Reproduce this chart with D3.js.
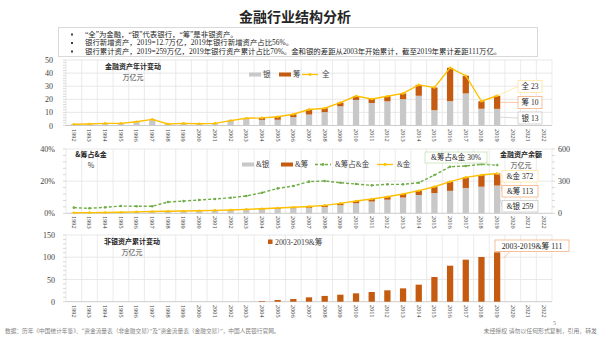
<!DOCTYPE html>
<html>
<head>
<meta charset="utf-8">
<script src="https://cdn.jsdelivr.net/npm/d3@7"></script>
<style>
  body { margin: 0; background: #fff; }
  svg { display: block; font-family: "Liberation Serif", "Noto Sans CJK SC", serif; }
  .cjk { font-family: "Noto Sans CJK SC", sans-serif; }
</style>
</head>
<body>
<div id="chart"></div>
<script>
// categories
const years = ['1992', '1993', '1994', '1995', '1996', '1997', '1998', '1999', '2000', '2001',
  '2002', '2003', '2004', '2005', '2006', '2007', '2008', '2009', '2010', '2011', '2012',
  '2013', '2014', '2015', '2016', '2017', '2018', '2019', '2020', '2021', '2022']
const dataYears = years.slice(0, 28) // 1992-2019

// yearly change, 万亿元
const flowBank = [0.8, 1.1, 1.5, 1.5, 2.7, 4.4, 1.1, 1.5, 1.2, 1.5, 3.4, 5.0, 4.3, 4.4, 6.4, 8.4,
  10.2, 14.7, 19.5, 17.2, 18.5, 20.1, 22.7, 11.7, 18.6, 24.5, 12.8, 12.7]
const flowNonBank = [0.1, 0.1, 0.1, 0.1, 0.2, 0.3, 0.1, 0.1, 0.1, 0.1, 0.3, 0.5, 1.5, 2.3, 2.2, 3.8,
  3.0, 2.8, 3.0, 3.0, 3.8, 4.4, 8.3, 17.3, 25.4, 13.5, 5.7, 10]
const flowTotal = [0.9, 1.2, 1.6, 1.6, 2.9, 4.7, 1.2, 1.6, 1.3, 1.6, 3.7, 5.5, 5.8, 6.7, 8.6, 12.2,
  13.2, 17.5, 22.5, 20.2, 22.3, 24.5, 31.0, 29.0, 44.0, 38.0, 18.5, 22.7]

// balances, 万亿元, and non-bank share in %
const stockBank = [4.8, 5.8, 7.7, 9.5, 12.4, 16.3, 17.7, 19.4, 22.0, 24.6, 28.0, 33.0, 37.5, 42.2,
  47.3, 51.4, 59.1, 75.3, 94.1, 109.9, 127.1, 147.6, 170.9, 189.0, 209.4, 236.5, 248.1, 259]
const stockNonBank = [0.2, 0.2, 0.3, 0.5, 0.6, 0.7, 1.3, 1.6, 2.0, 2.4, 3.0, 4.0, 5.5, 7.8, 9.7,
  12.6, 14.9, 17.7, 20.9, 23.1, 27.9, 32.4, 40.1, 59.0, 85.6, 98.5, 108.9, 113]
const stockTotal = [5, 6, 8, 10, 13, 17, 19, 21, 24, 27, 31, 37, 43, 50, 57, 64, 74, 93, 115, 133,
  155, 180, 211, 248, 295, 335, 357, 372]
const stockShare = [3.5, 3.1, 3.7, 4.5, 4.4, 4.4, 7.0, 7.6, 8.3, 8.9, 9.7, 10.8, 12.8, 15.5, 17.0,
  19.7, 20.1, 19.0, 18.2, 17.4, 18.0, 18.0, 19.0, 23.8, 29.0, 29.4, 30.5, 30]

// cumulative non-bank change since 2003
const cumYears = years.slice(11, 28)
const cumNonBank = [0, 1.5, 3.8, 6.0, 9.8, 13.0, 15.8, 18.8, 21.8, 25.6, 30.0, 38.3, 55.6, 81.0,
  94.5, 100.6, 111]

const notes = [
  '“全”为金融，“银”代表银行，“筹”是非银资产。',
  '银行新增资产，2019=12.7万亿，2019年银行新增资产占比56%。',
  '银行累计资产，2019=259万亿，2019年银行资产累计占比70%。金和银的差距从2003年开始累计，截至2019年累计差距111万亿。'
]

const C_BANK = '#c8c8c8', C_NB = '#c55a11', C_TOT = '#ffc000', C_SHARE = '#70ad47'
const C_GRID = '#e2e2e2', C_TEXT = '#404040'

const svg = d3.select('#chart').append('svg').attr('width', 600).attr('height', 337)

const x = d3.scaleBand().domain(years).range([66, 552]).paddingInner(0.6).paddingOuter(0.3)
const step = x.step(), bw = x.bandwidth()
const cx = (d) => x(d) + bw / 2

// title + notes box
svg.append('text').attr('class', 'cjk').attr('x', 295).attr('y', 22).attr('text-anchor', 'middle')
  .style('font-size', '14px').style('font-weight', 'bold').style('fill', '#262626').text('金融行业结构分析')
svg.append('rect').attr('x', 58.5).attr('y', 27.5).attr('width', 479).attr('height', 29)
  .attr('fill', 'none').attr('stroke', '#d9d9d9')
notes.forEach((t, i) => {
  const yy = 36.5 + i * 8.5
  svg.append('rect').attr('x', 71).attr('y', yy - 3).attr('width', 2).attr('height', 2).attr('fill', '#404040')
  svg.append('text').attr('x', 85).attr('y', yy).style('font-size', '7.4px').style('fill', '#262626').text(t)
})

// background grid, y ticks, minor ticks, year labels
function frame(y, majors, minorStep, labelPad, fmt, labelY) {
  const g = svg.append('g')
  const [y0, y1] = y.range()
  const edges = years.map((d) => cx(d) - step / 2).concat([cx(years[years.length - 1]) + step / 2])
  g.selectAll('.vg').data(edges).join('line')
    .attr('x1', (d) => d).attr('x2', (d) => d).attr('y1', y1).attr('y2', y0)
    .attr('stroke', C_GRID).attr('stroke-width', 0.7)
  g.selectAll('.hg').data(majors).join('line')
    .attr('x1', 66).attr('x2', 552).attr('y1', (d) => y(d)).attr('y2', (d) => y(d))
    .attr('stroke', (d) => (d === 0 ? '#bfbfbf' : C_GRID)).attr('stroke-width', 0.8)
  const minors = d3.range(0, majors[majors.length - 1] + 1e-9, minorStep)
  g.selectAll('.mt').data(minors).join('line')
    .attr('x1', 63).attr('x2', 66).attr('y1', (d) => y(d)).attr('y2', (d) => y(d))
    .attr('stroke', '#bfbfbf').attr('stroke-width', 0.6)
  g.append('g').attr('transform', 'translate(66,0)')
    .call(d3.axisLeft(y).tickValues(majors).tickSize(0).tickPadding(labelPad).tickFormat(fmt))
    .call((a) => a.select('.domain').remove())
    .selectAll('text').style('font-family', 'Liberation Serif').style('font-size', '8px').style('fill', C_TEXT)
  g.append('g').attr('transform', `translate(0,${labelY})`)
    .call(d3.axisBottom(x).tickSize(0))
    .call((a) => a.select('.domain').remove())
    .selectAll('text').attr('transform', 'rotate(90)').attr('x', 0).attr('y', 0).attr('dy', '0.33em')
    .attr('text-anchor', 'start').style('font-family', 'Liberation Serif').style('font-size', '6.3px')
    .style('fill', C_TEXT)
  return g
}

function callout(gx, gy, bx, by, w, h, label, color) {
  svg.append('line').attr('x1', bx).attr('y1', by + h / 2).attr('x2', gx).attr('y2', gy)
    .attr('stroke', color).attr('stroke-width', 0.7)
  svg.append('rect').attr('x', bx).attr('y', by).attr('width', w).attr('height', h)
    .attr('fill', '#fff').attr('stroke', color).attr('stroke-width', 0.8)
  svg.append('text').attr('x', bx + w / 2).attr('y', by + h / 2).attr('dy', '0.35em')
    .attr('text-anchor', 'middle').style('font-size', '7.5px').style('fill', '#262626').text(label)
}

function chartTitle(tx, ty, t1, t2) {
  svg.append('text').attr('class', 'cjk').attr('x', tx).attr('y', ty).attr('text-anchor', 'middle')
    .style('font-size', '7px').style('font-weight', 'bold').style('fill', '#262626').text(t1)
  svg.append('text').attr('class', 'cjk').attr('x', tx).attr('y', ty + 11).attr('text-anchor', 'middle')
    .style('font-size', '7px').style('fill', C_TEXT).text(t2)
}

function legendRect(lx, ly, color, label) {
  svg.append('rect').attr('x', lx).attr('y', ly - 2).attr('width', 12).attr('height', 4).attr('fill', color)
  svg.append('text').attr('x', lx + 14).attr('y', ly).attr('dy', '0.35em')
    .style('font-size', '7.5px').style('fill', C_TEXT).text(label)
}

function legendLine(lx, ly, color, dash, label) {
  svg.append('line').attr('x1', lx).attr('x2', lx + 16).attr('y1', ly).attr('y2', ly)
    .attr('stroke', color).attr('stroke-width', 1.3).attr('stroke-dasharray', dash)
  svg.append('circle').attr('cx', lx + 8).attr('cy', ly).attr('r', 1.4).attr('fill', color)
  svg.append('text').attr('x', lx + 20).attr('y', ly).attr('dy', '0.35em')
    .style('font-size', '7.5px').style('fill', C_TEXT).text(label)
}

function stacked(y, bank, nonBank) {
  const rows = dataYears.map((d, i) => ({ year: d, bank: bank[i], nonBank: nonBank[i] }))
  const series = d3.stack().keys(['bank', 'nonBank'])(rows)
  svg.append('g').selectAll('g').data(series).join('g')
    .attr('fill', (s) => (s.key === 'bank' ? C_BANK : C_NB))
    .selectAll('rect').data((s) => s).join('rect')
    .attr('x', (d) => x(d.data.year)).attr('width', bw)
    .attr('y', (d) => y(d[1])).attr('height', (d) => y(d[0]) - y(d[1]))
}

function lineWithDots(y, values, color, dash) {
  const pts = dataYears.map((d, i) => [cx(d), y(values[i])])
  svg.append('path').attr('d', d3.line()(pts)).attr('fill', 'none')
    .attr('stroke', color).attr('stroke-width', 1.4).attr('stroke-dasharray', dash)
  svg.append('g').selectAll('circle').data(pts).join('circle')
    .attr('cx', (p) => p[0]).attr('cy', (p) => p[1]).attr('r', 1.3).attr('fill', color)
}

const fmt0 = d3.format('.0f')
const last = dataYears.length - 1
const x2019 = cx('2019')

// ---- chart 1: yearly change
const y1 = d3.scaleLinear().domain([0, 50]).range([125.5, 60])
frame(y1, [0, 10, 20, 30, 40, 50], 2, 13, fmt0, 129)
stacked(y1, flowBank, flowNonBank)
lineWithDots(y1, flowTotal, C_TOT, null)
chartTitle(133, 69, '金融资产年计变动', '万亿元')
legendRect(249, 74.5, C_BANK, '银')
legendRect(279, 74.5, C_NB, '筹')
legendLine(302, 74.5, C_TOT, null, '全')
callout(x2019, y1(flowTotal[last]), 518, 80.5, 24, 12, '全 ' + fmt0(flowTotal[last]), '#ffe699')
callout(x2019 + bw / 2, y1(flowBank[last] + flowNonBank[last] / 2), 518, 96.5, 24, 12, '筹 ' + fmt0(flowNonBank[last]), '#f4b183')
callout(x2019 + bw / 2, y1(flowBank[last] / 2), 518, 112, 24, 12, '银 ' + fmt0(flowBank[last]), '#c9c9c9')

// ---- chart 2: balances and non-bank share
const y2 = d3.scaleLinear().domain([0, 40]).range([213.3, 149])
const y2r = d3.scaleLinear().domain([0, 600]).range([213.3, 149])
frame(y2, [0, 20, 40], 4, 11, (d) => d + '%', 216)
svg.append('g').attr('transform', 'translate(552,0)')
  .call(d3.axisRight(y2r).tickValues([0, 300, 600]).tickSize(0).tickPadding(6))
  .call((a) => a.select('.domain').remove())
  .selectAll('text').style('font-family', 'Liberation Serif').style('font-size', '8px').style('fill', C_TEXT)
svg.append('g').selectAll('line').data(d3.range(0, 601, 60)).join('line')
  .attr('x1', 552).attr('x2', 555).attr('y1', (d) => y2r(d)).attr('y2', (d) => y2r(d))
  .attr('stroke', '#bfbfbf').attr('stroke-width', 0.6)
stacked(y2r, stockBank, stockNonBank)
lineWithDots(y2r, stockTotal, C_TOT, null)
lineWithDots(y2, stockShare, C_SHARE, '3,2')
chartTitle(91, 157, '&筹占&金', '%')
chartTitle(521, 157, '金融资产余额', '万亿元')
legendRect(242, 164.5, C_BANK, '&银')
legendRect(281, 164.5, C_NB, '&筹')
legendLine(315, 164.5, C_SHARE, '3,2', '&筹占&金')
legendLine(377, 164.5, C_TOT, null, '&金')
callout(x2019, y2(stockShare[last]), 425, 152, 62, 11, '&筹占&金 ' + fmt0(stockShare[last]) + '%', '#c5e0b4')
callout(x2019, y2r(stockTotal[last]), 502, 170.5, 36, 11.5, '&金 ' + fmt0(stockTotal[last]), '#ffe699')
callout(x2019 + bw / 2, y2r(stockBank[last] + stockNonBank[last] / 2), 502, 185.5, 36, 11.5, '&筹 ' + fmt0(stockNonBank[last]), '#f4b183')
callout(x2019 + bw / 2, y2r(stockBank[last] / 2), 502, 200.5, 36, 11.5, '&银 ' + fmt0(stockBank[last]), '#c9c9c9')

// ---- chart 3: cumulative non-bank change
const y3 = d3.scaleLinear().domain([0, 150]).range([301.7, 235])
frame(y3, [0, 50, 100, 150], 10, 11, fmt0, 305)
svg.append('g').selectAll('rect').data(cumYears).join('rect')
  .attr('x', (d) => x(d)).attr('width', bw)
  .attr('y', (d, i) => y3(cumNonBank[i])).attr('height', (d, i) => y3(0) - y3(cumNonBank[i]))
  .attr('fill', C_NB)
chartTitle(132, 244, '非银资产累计变动', '万亿元')
svg.append('rect').attr('x', 268).attr('y', 239.5).attr('width', 4.5).attr('height', 4.5).attr('fill', C_NB)
svg.append('text').attr('x', 275).attr('y', 242).attr('dy', '0.35em')
  .style('font-size', '7.8px').style('fill', C_TEXT).text('2003-2019&筹')
const cumLast = cumNonBank[cumNonBank.length - 1]
svg.append('line').attr('x1', 510).attr('y1', 251.5).attr('x2', x2019 + bw).attr('y2', y3(cumLast) + 6)
  .attr('stroke', '#f4b183').attr('stroke-width', 0.7)
svg.append('rect').attr('x', 495).attr('y', 240).attr('width', 74).attr('height', 11.5)
  .attr('fill', '#fff').attr('stroke', '#f4b183').attr('stroke-width', 0.8)
svg.append('text').attr('x', 532).attr('y', 245.8).attr('dy', '0.35em').attr('text-anchor', 'middle')
  .style('font-size', '7.8px').style('fill', '#262626').text('2003-2019&筹  ' + fmt0(cumLast))

// footer
svg.append('text').attr('x', 553).attr('y', 325).style('font-size', '6px').style('fill', '#7f7f7f').text('5')
svg.append('text').attr('x', 5).attr('y', 333).style('font-size', '5.7px').style('fill', '#7f7f7f')
  .text('数据：历年《中国统计年鉴》、“资金流量表（非金融交易）”及“资金流量表（金融交易）”，中国人民银行官网。')
svg.append('text').attr('x', 597).attr('y', 333).attr('text-anchor', 'end').style('font-size', '5.9px')
  .style('fill', '#7f7f7f').text('未经授权 请勿以任何形式复制，引用，转发')
</script>
</body>
</html>
